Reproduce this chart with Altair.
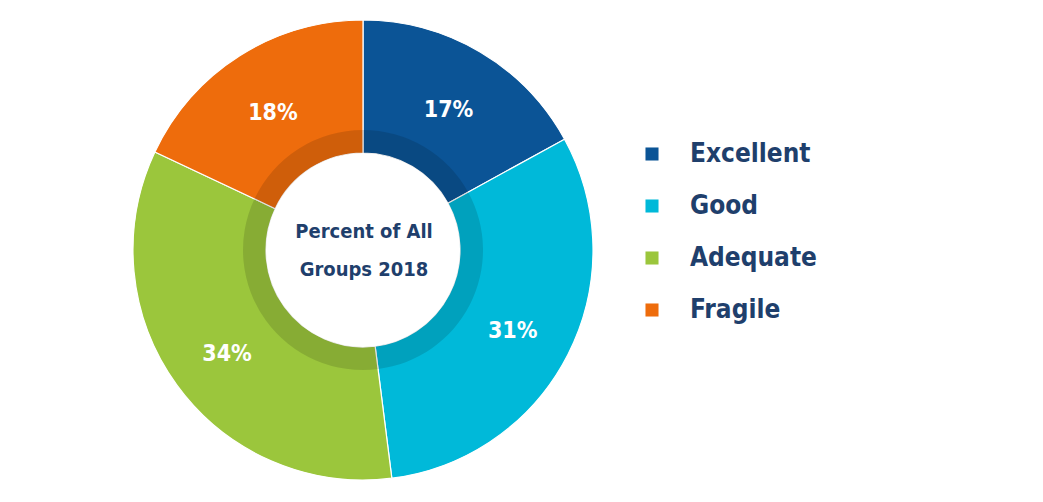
import altair as alt
import pandas as pd

categories = ["Excellent", "Good", "Adequate", "Fragile"]
values = [17, 31, 34, 18]
labels = ["17%", "31%", "34%", "18%"]
colors = ["#0b5496", "#00b9d9", "#9bc63c", "#ee6c0c"]

df = pd.DataFrame({
    "category": categories,
    "value": values,
    "label": labels,
    "order": list(range(len(categories))),
})

CX, CY = 355, 242
FONT = "Liberation Sans Narrow, DejaVu Sans Condensed, sans-serif"
NAVY = "#1f3f6c"

base = alt.Chart(df).encode(
    theta=alt.Theta("value:Q", stack=True),
    order=alt.Order("order:Q"),
    x=alt.value(CX),
    y=alt.value(CY),
)

color_scale = alt.Scale(domain=categories, range=colors)

main = base.mark_arc(radius=230, radius2=97, stroke="white", strokeWidth=1.2).encode(
    color=alt.Color(
        "category:N",
        scale=color_scale,
        sort=categories,
        legend=alt.Legend(
            title=None,
            orient="none",
            legendX=631,
            legendY=133,
            symbolType="square",
            symbolSize=170,
            symbolStrokeWidth=0,
            labelFont=FONT,
            labelFontSize=26,
            labelFontWeight="bold",
            labelColor=NAVY,
            labelOffset=25,
            rowPadding=26,
        ),
    )
)

ring = base.mark_arc(radius=120, radius2=97, color="black", opacity=0.13)

text = base.mark_text(
    radius=168, dy=5, font=FONT, fontSize=23, fontWeight="bold", color="white"
).encode(text="label:N")

center = alt.Chart(pd.DataFrame({"t": [["Percent of All", "Groups 2018"]]})).mark_text(
    font=FONT, fontSize=20, fontWeight="bold", color=NAVY, lineHeight=38,
    align="center", baseline="middle",
).encode(text="t", x=alt.value(CX + 1), y=alt.value(CY - 18))

chart = alt.layer(main, ring, text, center).properties(
    width=1027, height=486, autosize=alt.AutoSizeParams(type="none"), padding=0
).configure_view(stroke=None)

chart.save("out.html", embed_options={"renderer": "svg", "actions": False})
